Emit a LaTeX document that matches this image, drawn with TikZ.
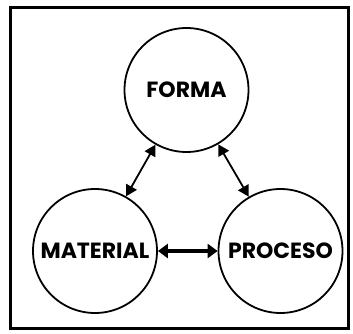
\documentclass[tikz,border=0pt]{standalone}
\usepackage{fontspec}
\setmainfont{Poppins}
\usetikzlibrary{arrows.meta}
\begin{document}
\begin{tikzpicture}[x=1pt,y=1pt,
  idea/.style={circle,draw,line width=1.8pt,minimum size=124pt,inner sep=0pt,
    font=\fontsize{22}{24}\selectfont\bfseries},
  link/.style={{Triangle[length=11pt,width=12pt]}-{Triangle[length=11pt,width=12pt]},line width=1.8pt},
  biglink/.style={{Triangle[length=10pt,width=14pt]}-{Triangle[length=10pt,width=14pt]},line width=3.5pt}]
  \useasboundingbox (0,0) rectangle (353,333);
  \draw[line width=3pt] (10,5) rectangle (348,325);
  \node[idea] (forma) at (186.5,243) {FORMA};
  \node[idea] (material) at (95,82) {MATERIAL};
  \node[idea] (proceso) at (280.5,82) {PROCESO};
  \draw[link] (forma) -- (material);
  \draw[link] (forma) -- (proceso);
  \draw[biglink] (material) -- (proceso);
\end{tikzpicture}
\end{document}
